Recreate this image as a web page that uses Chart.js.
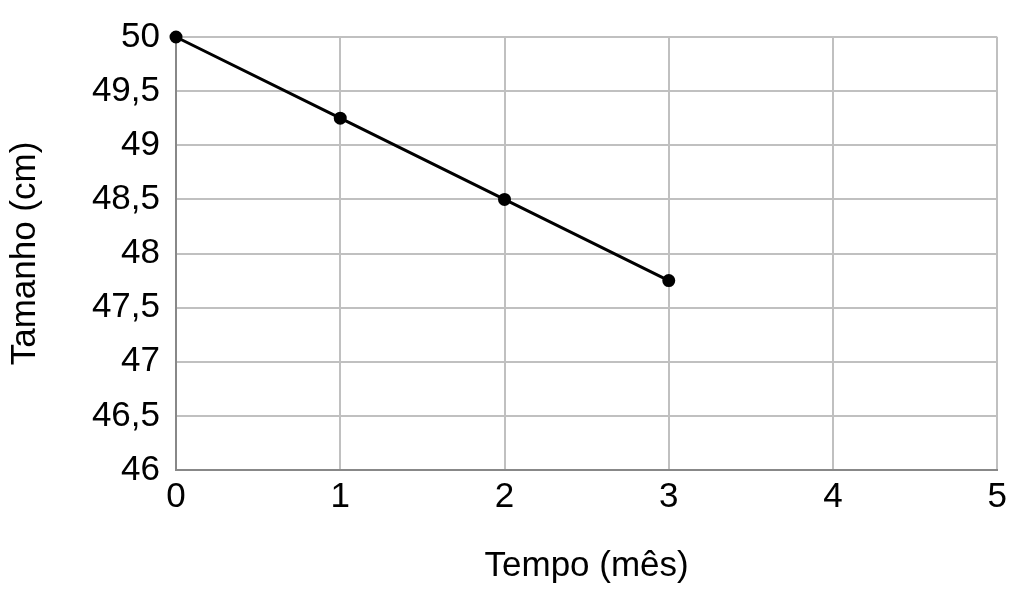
<!DOCTYPE html>
<html><head><meta charset="utf-8">
<script src="https://cdn.jsdelivr.net/npm/chart.js@4"></script>
<style>body{margin:0;background:#fff}#w{width:1013px;height:591px}</style>
</head><body><div id="w"><canvas id="c"></canvas></div>
<script>
const months = [0, 1, 2, 3];
const sizes = [50, 49.25, 48.5, 47.75];
const xTitle = 'Tempo (mês)';
const yTitle = 'Tamanho (cm)';
const font = {family: '"Liberation Sans", Arial, sans-serif', size: 35};
new Chart(document.getElementById('c'), {
  type: 'scatter',
  data: {datasets: [{
    data: months.map((m, i) => ({x: m, y: sizes[i]})),
    showLine: true, borderColor: '#000', backgroundColor: '#000',
    borderWidth: 3, pointRadius: 5, pointHoverRadius: 5, clip: false
  }]},
  options: {
    responsive: true, maintainAspectRatio: false, animation: false,
    layout: {padding: {top: 0, right: 0, left: 0, bottom: 0}},
    plugins: {legend: {display: false}, tooltip: {enabled: false}},
    scales: {
      x: {type: 'linear', min: 0, max: 5,
        ticks: {stepSize: 1, color: '#000', font, padding: 6},
        grid: {color: '#c0c0c0', lineWidth: 2, drawTicks: false},
        border: {color: '#888', width: 2},
        title: {display: true, text: xTitle, color: '#000', font, padding: {top: 22}},
        afterFit: s => { s.height = 121; }},
      y: {min: 46, max: 50,
        ticks: {stepSize: 0.5, color: '#000', font, padding: 16,
          callback: v => String(v).replace('.', ',')},
        grid: {color: '#c0c0c0', lineWidth: 2, drawTicks: false},
        border: {color: '#888', width: 2},
        title: {display: true, text: yTitle, color: '#000', font, padding: {bottom: 0}},
        afterFit: s => { s.width = 176; }}
    }
  }
});
</script></body></html>
